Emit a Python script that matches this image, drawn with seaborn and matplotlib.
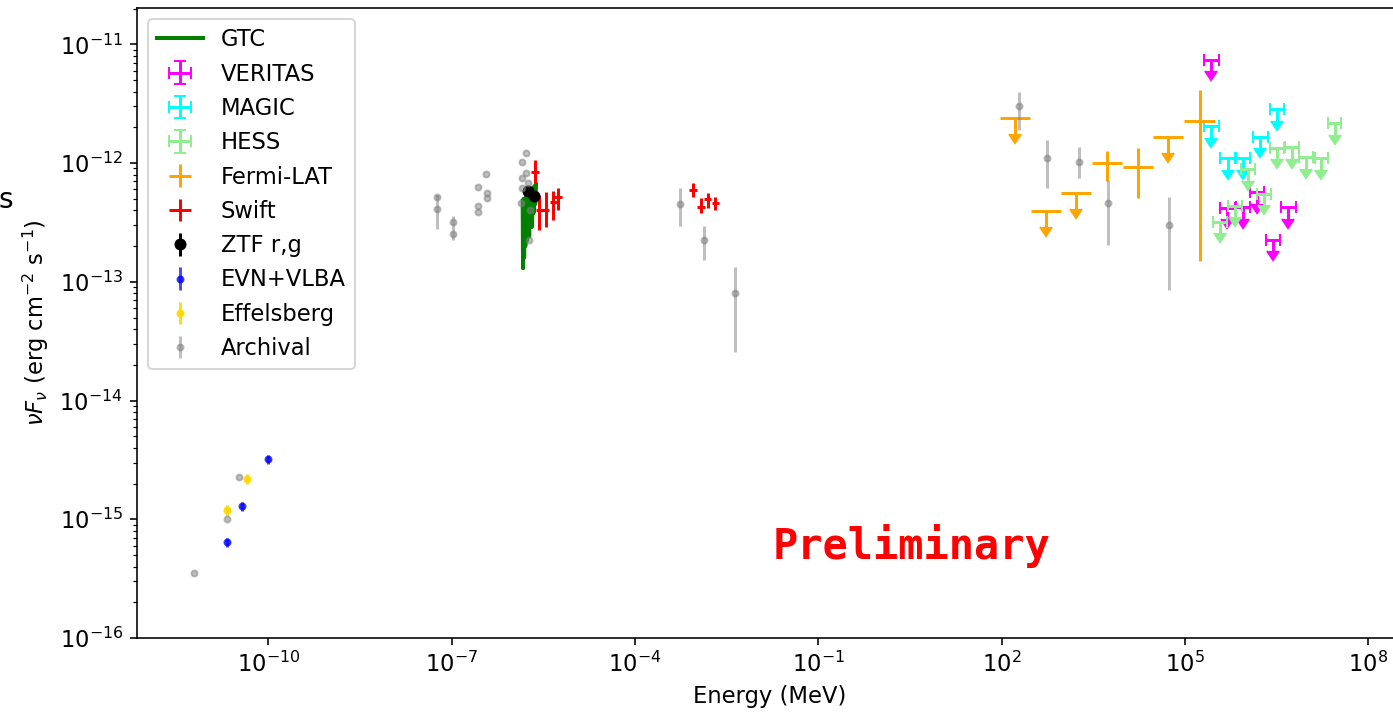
import numpy as np
import matplotlib
matplotlib.use("Agg")
import matplotlib.pyplot as plt
from matplotlib.ticker import NullLocator
import seaborn as sns

# GTC optical spectrum (looks like spikes at this scale)
gtc_e = [1.45e-6, 1.47e-6, 1.50e-6, 1.53e-6, 1.56e-6, 1.60e-6, 1.64e-6, 1.68e-6,
         1.72e-6, 1.76e-6, 1.80e-6, 1.85e-6, 1.90e-6, 1.95e-6, 2.00e-6, 2.06e-6,
         2.12e-6, 2.18e-6, 2.25e-6, 2.32e-6, 2.40e-6]
gtc_f = [4.8e-13, 1.3e-13, 5.0e-13, 1.6e-13, 4.6e-13, 2.0e-13, 5.2e-13, 2.2e-13,
         5.0e-13, 2.5e-13, 5.4e-13, 2.4e-13, 5.6e-13, 3.2e-13, 5.8e-13, 2.9e-13,
         6.0e-13, 3.8e-13, 6.4e-13, 4.5e-13, 6.6e-13]

# TeV upper limits
veritas_e = [2.7e5, 4.9e5, 8.9e5, 1.5e6, 2.75e6, 4.9e6]
veritas_f = [7.4e-12, 4.2e-13, 4.25e-13, 5.7e-13, 2.25e-13, 4.25e-13]

magic_e = [2.7e5, 5.0e5, 8.9e5, 1.7e6, 3.2e6]
magic_f = [2.05e-12, 1.1e-12, 1.1e-12, 1.66e-12, 2.85e-12]

hess_e = [3.7e5, 6.6e5, 1.07e6, 1.95e6, 3.2e6, 5.6e6, 9.5e6, 1.7e7, 2.8e7]
hess_f = [3.2e-13, 4.35e-13, 8.9e-13, 5.5e-13, 1.34e-12, 1.36e-12, 1.12e-12, 1.1e-12, 2.17e-12]

# Fermi-LAT: detections and upper limits
fermi_e = [5.25e3, 1.7e4, 1.73e5]
fermi_f = [1.0e-12, 9.3e-13, 2.25e-12]
fermi_lo = [7.1e-13, 5.1e-13, 1.5e-13]
fermi_hi = [1.26e-12, 1.34e-12, 4.1e-12]
fermi_ul_e = [166, 531, 1650, 5.3e4]
fermi_ul_f = [2.4e-12, 3.95e-13, 5.6e-13, 1.66e-12]

# Swift UVOT + XRT
swift_e = [2.3e-6, 2.7e-6, 3.45e-6, 4.6e-6, 5.5e-6, 8.9e-4, 1.2e-3, 1.55e-3, 2.05e-3]
swift_f = [8.4e-13, 4.0e-13, 4.0e-13, 4.7e-13, 5.2e-13, 5.9e-13, 4.25e-13, 5.0e-13, 4.6e-13]
swift_lo = [6.8e-13, 2.72e-13, 2.9e-13, 3.3e-13, 4.0e-13, 5.17e-13, 3.8e-13, 4.17e-13, 4.0e-13]
swift_hi = [1.06e-12, 5.37e-13, 5.7e-13, 5.8e-13, 6.15e-13, 6.8e-13, 5.07e-13, 5.6e-13, 5.17e-13]

# ZTF r, g
ztf_e = [1.78e-6, 2.24e-6]
ztf_f = [5.8e-13, 5.3e-13]
ztf_err = [0.3e-13, 0.3e-13]

# radio
evn_e = [2.1e-11, 3.7e-11, 1.0e-10]
evn_f = [6.4e-16, 1.29e-15, 3.2e-15]
evn_err = [0.6e-16, 1.2e-16, 3.0e-16]

effb_e = [2.1e-11, 4.5e-11]
effb_f = [1.19e-15, 2.2e-15]
effb_err = [1.2e-16, 2.0e-16]

# archival SED points
arch_e = [6.0e-12, 2.1e-11, 3.3e-11,
          5.75e-8, 5.75e-8, 1.05e-7, 1.05e-7,
          2.7e-7, 3.6e-7, 3.8e-7, 3.8e-7, 2.7e-7, 2.7e-7,
          1.62e-6, 1.41e-6, 1.62e-6, 1.41e-6, 1.41e-6, 1.35e-6, 1.78e-6, 1.9e-6, 1.82e-6,
          5.4e-4, 1.35e-3, 4.4e-3,
          190, 550, 1860, 5500, 5.5e4]
arch_f = [3.5e-16, 1.0e-15, 2.26e-15,
          5.2e-13, 4.1e-13, 3.2e-13, 2.52e-13,
          6.3e-13, 8.1e-13, 5.6e-13, 5.1e-13, 4.35e-13, 3.9e-13,
          1.21e-12, 1.02e-12, 8.2e-13, 7.5e-13, 6.15e-13, 4.6e-13, 6.8e-13, 4.0e-13, 2.25e-13,
          4.5e-13, 2.25e-13, 8.0e-14,
          3.0e-12, 1.1e-12, 1.02e-12, 4.6e-13, 3.0e-13]
arch_lo = [3.5e-16, 1.0e-15, 2.26e-15,
           5.2e-13, 2.78e-13, 3.2e-13, 2.25e-13,
           6.3e-13, 8.1e-13, 5.6e-13, 5.1e-13, 4.35e-13, 3.9e-13,
           1.21e-12, 1.02e-12, 8.2e-13, 7.5e-13, 6.15e-13, 4.6e-13, 6.8e-13, 4.0e-13, 2.25e-13,
           2.95e-13, 1.52e-13, 2.56e-14,
           1.9e-12, 6.15e-13, 7.5e-13, 2.04e-13, 8.5e-14]
arch_hi = [3.5e-16, 1.0e-15, 2.26e-15,
           5.37e-13, 5.37e-13, 3.2e-13, 3.57e-13,
           6.3e-13, 8.1e-13, 5.6e-13, 5.1e-13, 4.35e-13, 3.9e-13,
           1.21e-12, 1.02e-12, 8.2e-13, 7.5e-13, 6.15e-13, 4.6e-13, 6.8e-13, 4.0e-13, 2.25e-13,
           6.15e-13, 2.95e-13, 1.33e-13,
           3.98e-12, 1.56e-12, 1.36e-12, 7.2e-13, 5.17e-13]

x_ticks = [1e-10, 1e-7, 1e-4, 1e-1, 1e2, 1e5, 1e8]


def bin_err(e, dex):
    e = np.asarray(e)
    return [e - e / 10**dex, e * 10**dex - e]


def asym(f, lo, hi):
    f = np.asarray(f)
    return [f - np.asarray(lo), np.asarray(hi) - f]


def fill_arrows(cont, color):
    # make the limit carets the same colour as the bars
    for cl in cont.lines[1]:
        cl.set_markerfacecolor(color)
        cl.set_markeredgecolor(color)


plt.rcParams['font.family'] = ['DejaVu Sans']
plt.rcParams['font.size'] = 11.3

fig = plt.figure(figsize=(1393 / 144, 716 / 144), dpi=144)
ax = fig.add_axes([137 / 1393, 1 - 638 / 716, (1402 - 137) / 1393, 630 / 716])

handles = []

# GTC
sns.lineplot(x=gtc_e, y=gtc_f, ax=ax, color="green", lw=2, sort=False,
             estimator=None, label="GTC", legend=False)
handles.append(ax.lines[-1])

ul_frac = 0.2
for e, f, col, dex, name in [(veritas_e, veritas_f, "magenta", 0.12, "VERITAS"),
                             (magic_e, magic_f, "cyan", 0.12, "MAGIC"),
                             (hess_e, hess_f, "lightgreen", 0.11, "HESS")]:
    h = ax.errorbar(e, f, xerr=bin_err(e, dex), yerr=np.asarray(f) * ul_frac,
                    uplims=True, fmt="none", ecolor=col, capsize=3, label=name)
    fill_arrows(h, col)
    handles.append(h)

# Fermi
h = ax.errorbar(fermi_e, fermi_f, xerr=bin_err(fermi_e, 0.25),
                yerr=asym(fermi_f, fermi_lo, fermi_hi),
                fmt="none", ecolor="orange", label="Fermi-LAT")
handles.append(h)
ax.errorbar(fermi_ul_e, fermi_ul_f, xerr=bin_err(fermi_ul_e, 0.25),
            fmt="none", ecolor="orange")
h2 = ax.errorbar(fermi_ul_e, fermi_ul_f, yerr=np.asarray(fermi_ul_f) * 0.27,
                 uplims=True, fmt="none", ecolor="orange", capsize=3)
fill_arrows(h2, "orange")

h = ax.errorbar(swift_e, swift_f, xerr=bin_err(swift_e, 0.06),
                yerr=asym(swift_f, swift_lo, swift_hi),
                fmt="none", ecolor="red", label="Swift")
handles.append(h)

h = ax.errorbar(ztf_e, ztf_f, yerr=ztf_err, fmt="o", color="black", ms=5,
                label="ZTF r,g")
handles.append(h)

h = ax.errorbar(evn_e, evn_f, yerr=evn_err, fmt=".", color="blue", alpha=0.7,
                label="EVN+VLBA")
handles.append(h)
h = ax.errorbar(effb_e, effb_f, yerr=effb_err, fmt=".", color="gold", alpha=0.9,
                label="Effelsberg")
handles.append(h)

h = ax.errorbar(arch_e, arch_f, yerr=asym(arch_f, arch_lo, arch_hi), fmt=".",
                color="gray", alpha=0.5, label="Archival")
handles.append(h)

ax.set_xscale("log")
ax.set_yscale("log")
ax.set_xlim(10**-12.15, 10**8.55)
ax.set_ylim(1e-16, 10**-10.694)
ax.set_xticks(x_ticks)
ax.xaxis.set_minor_locator(NullLocator())
ax.set_xlabel("Energy (MeV)")
ax.set_ylabel(r"$\nu F_\nu$ (erg cm$^{-2}$ s$^{-1}$)")

ax.legend(handles=handles, labels=[hh.get_label() for hh in handles],
          loc="upper left")

fig.text(0.6547, 0.237, "Preliminary", color="red", fontsize=21,
         fontweight="bold", family="DejaVu Sans Mono", ha="center", va="center")
fig.text(-0.001, 0.7207, "s", fontsize=14, ha="left", va="center")

fig.savefig("out.png", dpi=144)
